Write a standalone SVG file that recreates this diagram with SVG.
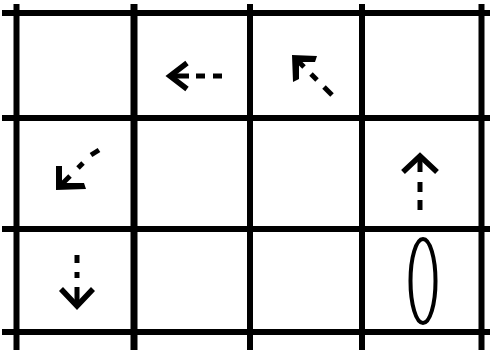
<svg xmlns="http://www.w3.org/2000/svg" width="490" height="354" viewBox="0 0 490 354">
<style>
.grid{stroke:#000;stroke-width:6;fill:none}
.thick{stroke-width:7}
.dash{stroke:#000;stroke-width:5;fill:none}
.head{stroke:#000;stroke-width:5.5;fill:none;stroke-linejoin:miter}
</style>
<rect width="490" height="354" fill="#fff"/>
<g id="grid">
<line class="grid" x1="2" y1="13" x2="490" y2="13"/>
<line class="grid" x1="2" y1="118" x2="490" y2="118"/>
<line class="grid" x1="2" y1="229" x2="490" y2="229"/>
<line class="grid" x1="2" y1="332" x2="490" y2="332"/>
<line class="grid" x1="16.5" y1="4" x2="16.5" y2="350"/>
<line class="grid thick" x1="134" y1="4" x2="134" y2="350"/>
<line class="grid" x1="250" y1="4" x2="250" y2="350"/>
<line class="grid" x1="362" y1="4" x2="362" y2="350"/>
<line class="grid" x1="481.5" y1="4" x2="481.5" y2="350"/>
</g>
<g id="arrow-left">
<polyline class="head" points="187,63 170,76 187,89"/>
<line class="dash" x1="170" y1="76" x2="189" y2="76"/>
<line class="dash" x1="196" y1="76" x2="205" y2="76"/>
<line class="dash" x1="213" y1="76" x2="222" y2="76"/>
</g>
<g id="arrow-upleft">
<polygon points="292,55 317,56 315,62 299,62 299,79 293,82" fill="#000"/>
<line class="dash" x1="295" y1="58" x2="304" y2="67"/>
<line class="dash" x1="311" y1="74" x2="317" y2="80"/>
<line class="dash" x1="324" y1="87" x2="332" y2="95"/>
</g>
<g id="arrow-downleft">
<polygon points="56,166 62,166 62,183 84,183 86,189 56,190" fill="#000"/>
<line class="dash" x1="59" y1="187" x2="70" y2="176"/>
<line class="dash" x1="78" y1="168" x2="83" y2="163"/>
<line class="dash" x1="91" y1="155" x2="99" y2="150"/>
</g>
<g id="arrow-up">
<polyline class="head" points="403,172 420,156 437,172"/>
<line class="dash" x1="420" y1="157" x2="420" y2="172"/>
<line class="dash" x1="420" y1="182" x2="420" y2="192"/>
<line class="dash" x1="420" y1="200" x2="420" y2="210"/>
</g>
<g id="arrow-down">
<polyline class="head" points="61,289 77,306 93,289"/>
<line class="dash" x1="77" y1="306" x2="77" y2="287"/>
<line class="dash" x1="77" y1="255" x2="77" y2="263"/>
<line class="dash" x1="77" y1="272" x2="77" y2="278"/>
</g>
<g id="ellipse">
<ellipse cx="423" cy="281" rx="12.5" ry="42" fill="none" stroke="#000" stroke-width="4"/>
</g>
</svg>
